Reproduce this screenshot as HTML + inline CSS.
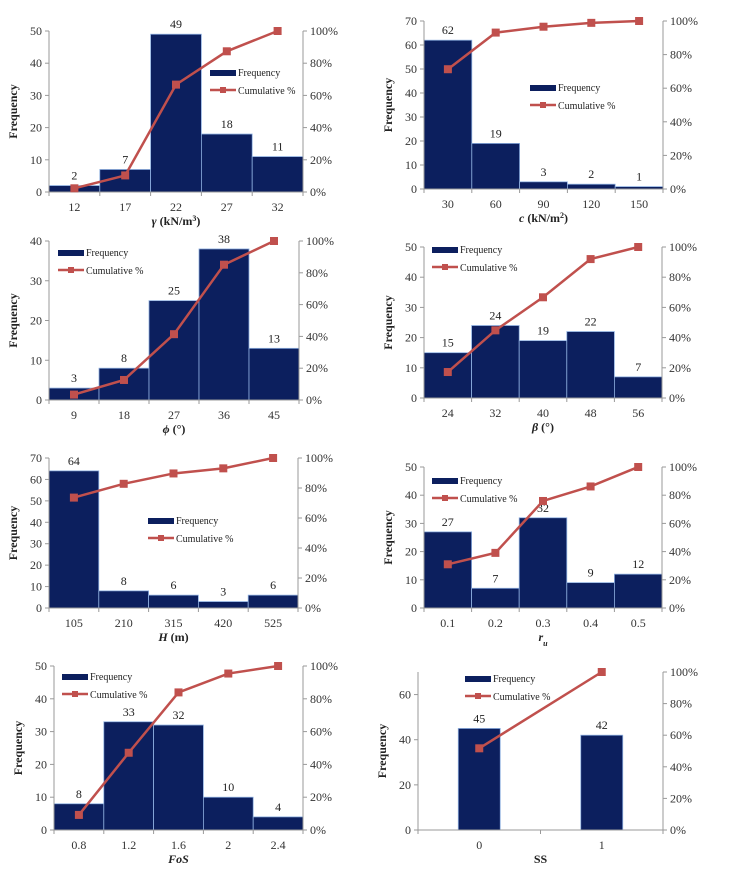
<!DOCTYPE html>
<html><head><meta charset="utf-8"><style>
body{margin:0;background:#fff}
svg{display:block;font-family:"Liberation Serif","DejaVu Serif",serif}
</style></head><body>
<svg id="s" width="741" height="873" viewBox="0 0 741 873"></svg>
<script>
const cats1=["12","17","22","27","32"], freq1=[2,7,49,18,11], cum1=[2.3,10.3,66.7,87.4,100];
const cats2=["30","60","90","120","150"], freq2=[62,19,3,2,1], cum2=[71.3,93.1,96.6,98.9,100];
const cats3=["9","18","27","36","45"], freq3=[3,8,25,38,13], cum3=[3.4,12.6,41.4,85.1,100];
const cats4=["24","32","40","48","56"], freq4=[15,24,19,22,7], cum4=[17.2,44.8,66.7,92,100];
const cats5=["105","210","315","420","525"], freq5=[64,8,6,3,6], cum5=[73.6,82.8,89.7,93.1,100];
const cats6=["0.1","0.2","0.3","0.4","0.5"], freq6=[27,7,32,9,12], cum6=[31,39.1,75.9,86.2,100];
const cats7=["0.8","1.2","1.6","2","2.4"], freq7=[8,33,32,10,4], cum7=[9.2,47.1,83.9,95.4,100];
const cats8=["0","1"], freq8=[45,42], cum8=[51.7,100];
const yTicks1=[0,10,20,30,40,50], yTicks2=[0,10,20,30,40,50,60,70], yTicks3=[0,10,20,30,40];
const yTicks8=[0,20,40,60], pctTicks=[0,20,40,60,80,100];

const charts=[
 {n:"gamma",c:cats1,f:freq1,cu:cum1,t:yTicks1,max:50,L:49,R:303,T:31,B:192,lx:210,ly:73,title:'<tspan font-style="italic">γ</tspan> (kN/m<tspan baseline-shift="super" font-size="8">3</tspan>)'},
 {n:"cohesion",c:cats2,f:freq2,cu:cum2,t:yTicks2,max:70,L:424,R:663,T:21,B:189,lx:530,ly:88,title:'<tspan font-style="italic">c</tspan> (kN/m<tspan baseline-shift="super" font-size="8">2</tspan>)'},
 {n:"phi",c:cats3,f:freq3,cu:cum3,t:yTicks3,max:40,L:49,R:299,T:241,B:400,lx:58,ly:253,title:'<tspan font-style="italic">ϕ</tspan> (°)'},
 {n:"beta",c:cats4,f:freq4,cu:cum4,t:yTicks1,max:50,L:424,R:662,T:247,B:398,lx:432,ly:250,title:'<tspan font-style="italic">β</tspan> (°)'},
 {n:"height",c:cats5,f:freq5,cu:cum5,t:yTicks2,max:70,L:49,R:298,T:458,B:608,lx:148,ly:521,title:'<tspan font-style="italic">H</tspan> (m)'},
 {n:"ru",c:cats6,f:freq6,cu:cum6,t:yTicks1,max:50,L:424,R:662,T:467,B:608,lx:432,ly:481,title:'<tspan font-style="italic">r</tspan><tspan baseline-shift="sub" font-size="8" font-style="italic">u</tspan>'},
 {n:"fos",c:cats7,f:freq7,cu:cum7,t:yTicks1,max:50,L:54,R:303,T:666,B:830,lx:62,ly:677,title:'<tspan font-style="italic">FoS</tspan>'},
 {n:"ss",c:cats8,f:freq8,cu:cum8,t:yTicks8,max:70,L:418,R:663,T:672,B:830,lx:465,ly:679,title:'SS',bw:42}
];
const NS="http://www.w3.org/2000/svg", svg=document.getElementById('s');
function mk(tag,at,parent,txt){const e=document.createElementNS(NS,tag);for(const k in at)e.setAttribute(k,at[k]);if(txt!==undefined)e.innerHTML=txt;parent.appendChild(e);return e;}
const NAVY="#0c1f5e", RED="#c0504d", GREY="#999";
charts.forEach(ch=>{
 const g=mk('g',{},svg);
 
 
 const n=ch.c.length, band=(ch.R-ch.L)/n;
 const x=i=>ch.L+band*(i+0.5);
 const y=v=>ch.B-(v/ch.max)*(ch.B-ch.T);
 const yp=p=>ch.B-(p/100)*(ch.B-ch.T);
 // bars
 ch.f.forEach((v,i)=>{
  const w=ch.bw||band;
  const r=mk('rect',{x:x(i)-w/2,y:y(v),width:w,height:ch.B-y(v),fill:NAVY,stroke:"#8fb0e0","stroke-width":0.8},g);
  
  
  const l=mk('text',{x:x(i),y:y(v)-6,"text-anchor":"middle","font-size":12,fill:"#222"},g,String(v));
  
  
 });
 // axes
 mk('line',{x1:ch.L,y1:ch.T,x2:ch.L,y2:ch.B,stroke:GREY},g);
 mk('line',{x1:ch.L,y1:ch.B,x2:ch.R,y2:ch.B,stroke:GREY},g);
 mk('line',{x1:ch.R,y1:ch.T,x2:ch.R,y2:ch.B,stroke:GREY},g);
 ch.t.forEach(t=>{
  mk('line',{x1:ch.L-4,y1:y(t),x2:ch.L,y2:y(t),stroke:GREY},g);
  const e=mk('text',{x:ch.L-7,y:y(t)+4,"text-anchor":"end","font-size":12,fill:"#333"},g,String(t));
  
  
 });
 pctTicks.forEach(p=>{
  mk('line',{x1:ch.R,y1:yp(p),x2:ch.R+4,y2:yp(p),stroke:GREY},g);
  const e=mk('text',{x:ch.R+7,y:yp(p)+4,"font-size":12,fill:"#333"},g,p+'%');
  
  
 });
 for(let i=0;i<=n;i++) mk('line',{x1:ch.L+band*i,y1:ch.B,x2:ch.L+band*i,y2:ch.B+4,stroke:GREY},g);
 ch.c.forEach((c,i)=>{
  const e=mk('text',{x:x(i),y:ch.B+19,"text-anchor":"middle","font-size":12,fill:"#333"},g,c);
  
  
 });
 const xt=mk('text',{x:(ch.L+ch.R)/2,y:ch.B+33,"text-anchor":"middle","font-size":12,"font-weight":"bold",fill:"#222"},g,ch.title);
 
 
 const cy=(ch.T+ch.B)/2, cx=ch.L-32;
 const yt=mk('text',{x:cx,y:cy,transform:`rotate(-90 ${cx} ${cy})`,"text-anchor":"middle","font-size":12,"font-weight":"bold",fill:"#222"},g,'Frequency');
 
 
 // line
 const pts=ch.cu.map((p,i)=>x(i)+','+yp(p)).join(' ');
 const pl=mk('polyline',{points:pts,fill:"none",stroke:RED,"stroke-width":2.5},g);
 
 
 ch.cu.forEach((p,i)=>{
  const m=mk('rect',{x:x(i)-4,y:yp(p)-4,width:8,height:8,fill:RED},g);
  
  
 });
 // legend
 const lg=mk('g',{},g);
 
 
 mk('rect',{x:ch.lx,y:ch.ly-3,width:26,height:6,fill:NAVY},lg);
 mk('text',{x:ch.lx+28,y:ch.ly+3,"font-size":10,fill:"#222"},lg,'Frequency');
 mk('line',{x1:ch.lx,y1:ch.ly+17,x2:ch.lx+26,y2:ch.ly+17,stroke:RED,"stroke-width":2.5},lg);
 mk('rect',{x:ch.lx+10,y:ch.ly+14,width:6,height:6,fill:RED},lg);
 mk('text',{x:ch.lx+28,y:ch.ly+21,"font-size":10,fill:"#222"},lg,'Cumulative %');
});
</script>
</body></html>
